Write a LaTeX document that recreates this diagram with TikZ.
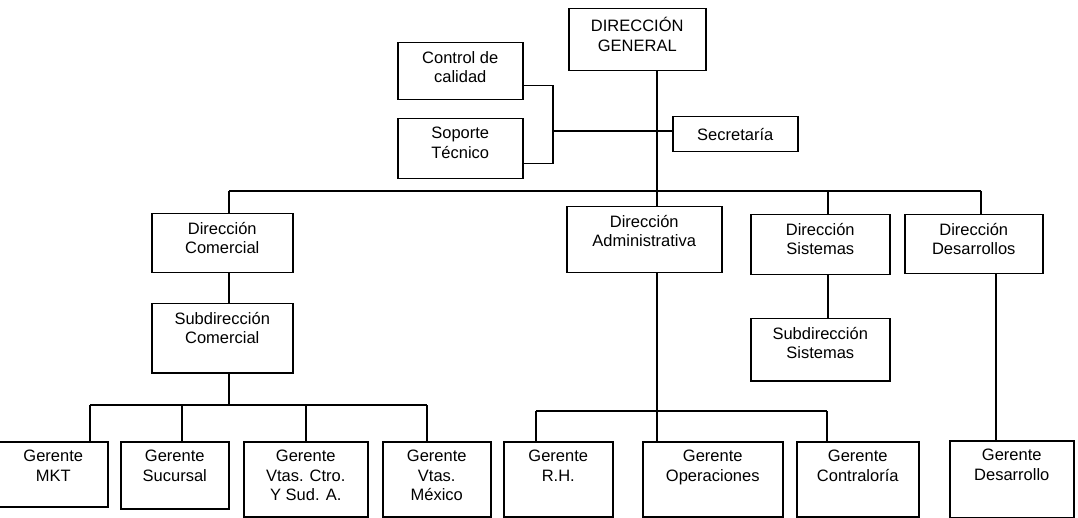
\documentclass[tikz,border=0pt]{standalone}
\usepackage{fontspec}
\setmainfont{Liberation Sans}

\tikzset{
    unit/.style={draw, line width=1.5pt, anchor=north west, inner sep=0pt},
    unitlabel/.style={anchor=north, align=center, inner sep=0pt,
        font=\fontsize{16.5}{19.5}\selectfont,
        execute at begin node={\rule{0pt}{15pt}}},
    link/.style={line width=1.5pt}
}

\begin{document}
\begin{tikzpicture}[x=1pt, y=-1pt]
    \useasboundingbox (0,0) rectangle (1078,518);
    % boxes: name / left / top / width / height / text
    \foreach \n/\x/\y/\w/\h/\lbl in {
        dg/568/8/137/62/{DIRECCIÓN\\GENERAL},
        calidad/397/42/125/57/{Control de\\calidad},
        soporte/397/118/125/60/{Soporte\\Técnico},
        secre/672/116/125/35/{Secretaría},
        dcom/151/213/141/59/{Dirección\\Comercial},
        scom/151/303/141/69/{Subdirección\\Comercial},
        dadm/566/206/155/66/{Dirección\\Administrativa},
        dsis/750/214/139/60/{Dirección\\Sistemas},
        ssis/750/318/139/62/{Subdirección\\Sistemas},
        ddes/904/214/138/59/{Dirección\\Desarrollos},
        mkt/-2/441/109/65/{Gerente\\MKT},
        suc/120/441/108/67/{Gerente\\Sucursal},
        ctro/243/441/124/75/{Gerente\\Vtas. Ctro.\\Y Sud. A.},
        mex/382/441/108/75/{Gerente\\Vtas.\\México},
        rh/503/441/109/75/{Gerente\\R.H.},
        ope/642/441/140/75/{Gerente\\Operaciones},
        con/796/441/122/75/{Gerente\\Contraloría},
        gdes/949/440/124/77/{Gerente\\Desarrollo}}{
        \node[unit, minimum width=\w pt, minimum height=\h pt] (\n) at (\x,\y) {};
        \node[unitlabel] (\n-t) at ([yshift=-9pt]\n.north) {\lbl};
    }

    \coordinate (brk) at (553,131);
    \coordinate (trunk) at (657,191);
    \coordinate (busL) at (229,191);
    \coordinate (busR) at (981,191);
    \coordinate (sisdrop) at (828,191);
    \coordinate (subL) at (90,405);
    \coordinate (subR) at (427,405);
    \coordinate (admL) at (536,411);
    \coordinate (admR) at (827,411);

    % staff units
    \draw[link] ([yshift=-14.5pt]calidad.east) -| (brk) |- ([yshift=-15pt]soporte.east);
    \draw[link] (brk) -- (brk -| secre.west);
    \draw[link] (dg.south -| trunk) -- (dadm.north -| trunk);

    % directions
    \draw[link] (busL) -- (busR);
    \draw[link] (busL) -- (busL |- dcom.north);
    \draw[link] (sisdrop) -- (sisdrop |- dsis.north);
    \draw[link] (busR) -- (busR |- ddes.north);
    \draw[link] (busL |- dcom.south) -- (busL |- scom.north);
    \draw[link] (sisdrop |- dsis.south) -- (sisdrop |- ssis.north);
    \draw[link] ([xshift=22pt]ddes.south) -- ([xshift=22pt]ddes.south |- gdes.north);

    % comercial
    \draw[link] (busL |- scom.south) -- (busL |- subL);
    \draw[link] (subL) -- (subR);
    \draw[link] (subL) -- (subL |- mkt.north);
    \draw[link] ([xshift=7pt]suc.north) -- ([xshift=7pt]suc.north |- subL);
    \draw[link] (ctro.north) -- (ctro.north |- subL);
    \draw[link] (subR) -- (subR |- mex.north);

    % administrativa
    \draw[link] (dadm.south -| trunk) -- (ope.north -| trunk);
    \draw[link] (admL) -- (admR);
    \draw[link] (admL) -- (admL |- rh.north);
    \draw[link] (admR) -- (admR |- con.north);
\end{tikzpicture}
\end{document}
